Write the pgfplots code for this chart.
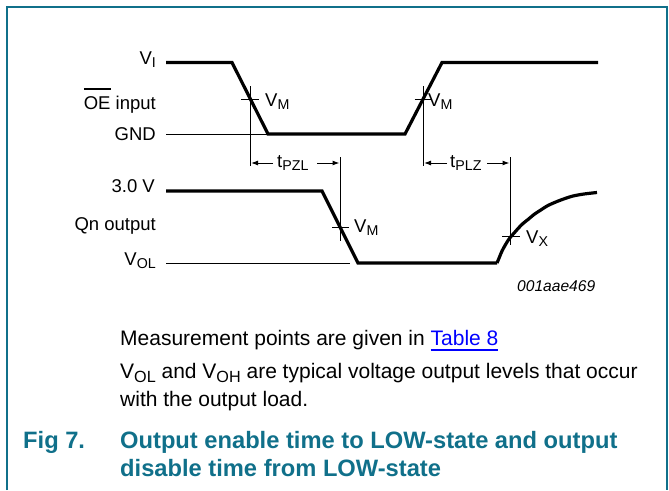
\documentclass[border=0pt]{standalone}
\usepackage{fontspec}
\setmainfont{Liberation Sans}
\usepackage{graphicx}
\usepackage{pgfplots}
\pgfplotsset{compat=1.18}
\usetikzlibrary{arrows.meta}
\definecolor{nxp}{RGB}{16,112,138}
\newcommand\sub[1]{\raisebox{-0.2em}{\scalebox{0.77}{#1}}}
\newcommand\lab{\fontsize{18.5}{22}\selectfont}
\newcommand\body{\fontsize{21}{25}\selectfont}
\newcommand\ttl{\fontsize{23.7}{28}\selectfont\bfseries}
\newcommand\ovl[1]{\setbox0\hbox{#1}\rlap{\rule[19.5pt]{\wd0}{1.2pt}}\box0\relax}
\newcommand\ul[1]{\setbox0\hbox{#1}\rlap{\rule[-6pt]{\wd0}{2pt}}\box0\relax}
\begin{document}
\begin{tikzpicture}
\begin{axis}[width=669pt,height=490pt,scale only axis,
  xmin=0,xmax=669,ymin=0,ymax=490,y dir=reverse,hide axis,clip=false]
% frame
\addplot[nxp,line width=2pt] coordinates {(6.5,490)(6.5,7)(666.5,7)(666.5,490)};
% OE input waveform
\addplot[black,line width=3.2pt] coordinates {(166,62.5)(232,62.5)(268,134)(405,134)(442,62.5)(598,62.5)};
\addplot[black,line width=1pt] coordinates {(166,134)(268,134)};
% Qn output waveform
\addplot[black,line width=3.2pt] coordinates {(166,191)(322,191)(358,263)(497,263)};
\addplot[black,line width=3.2pt,smooth] coordinates {(497,263)(499.5,257)(502,251)(505,245.5)(508,240.5)(511,236.5)(515,232)(519,227.5)(523,223.5)(528,219.5)(534,214.5)(540,210.5)(548,205.5)(557,201.5)(565,198.5)(573,196)(584,194)(597,192.5)};
\addplot[black,line width=1pt] coordinates {(166,263)(350,263)};
% measurement verticals and ticks
\addplot[black,line width=1pt] coordinates {(250,86)(250,166)};
\addplot[black,line width=1pt] coordinates {(241,99)(258.5,99)};
\addplot[black,line width=1pt] coordinates {(423,86)(423,166)};
\addplot[black,line width=1pt] coordinates {(414.5,99)(432,99)};
\addplot[black,line width=1pt] coordinates {(340.5,157)(340.5,241)};
\addplot[black,line width=1pt] coordinates {(332,227)(349,227)};
\addplot[black,line width=1pt] coordinates {(510.5,157)(510.5,245)};
\addplot[black,line width=1pt] coordinates {(502,236.5)(520,236.5)};
% arrows
\addplot[black,line width=1pt,-{Latex[length=7pt,width=5pt]}] coordinates {(273,163)(251,163)};
\addplot[black,line width=1pt,-{Latex[length=7pt,width=5pt]}] coordinates {(317,163)(339.5,163)};
\addplot[black,line width=1pt,-{Latex[length=7pt,width=5pt]}] coordinates {(447,163)(424,163)};
\addplot[black,line width=1pt,-{Latex[length=7pt,width=5pt]}] coordinates {(487,163)(509.5,163)};
% left labels
\node[anchor=base east,font=\lab,inner sep=0pt] at (156,64) {V\sub{I}};
\node[anchor=base east,font=\lab,inner sep=0pt] at (156,109) {\ovl{OE} input};
\node[anchor=base east,font=\lab,inner sep=0pt] at (156,140) {GND};
\node[anchor=base east,font=\lab,inner sep=0pt] at (155,192) {3.0 V};
\node[anchor=base east,font=\lab,inner sep=0pt] at (156,230) {Qn output};
\node[anchor=base east,font=\lab,inner sep=0pt] at (156,265) {V\sub{OL}};
% marker labels
\node[anchor=base west,font=\lab,inner sep=0pt] at (265,106) {V\sub{M}};
\node[anchor=base west,font=\lab,inner sep=0pt] at (428,106) {V\sub{M}};
\node[anchor=base west,font=\lab,inner sep=0pt] at (354,232) {V\sub{M}};
\node[anchor=base west,font=\lab,inner sep=0pt] at (526,243) {V\sub{X}};
\node[anchor=base west,font=\lab,inner sep=0pt] at (277,167) {t\sub{PZL}};
\node[anchor=base west,font=\lab,inner sep=0pt] at (450,167) {t\sub{PLZ}};
\node[anchor=base west,font=\fontsize{15.6}{18}\selectfont\itshape,inner sep=0pt] at (517,291) {001aae469};
% notes
\node[anchor=base west,font=\body,inner sep=0pt] at (120,345) {Measurement points are given in \textcolor{blue}{\ul{Table 8}}};
\node[anchor=base west,font=\body,inner sep=0pt] at (120,378) {V\sub{OL} and V\sub{OH} are typical voltage output levels that occur};
\node[anchor=base west,font=\body,inner sep=0pt] at (120,406) {with the output load.};
% caption
\node[anchor=base west,font=\ttl,text=nxp,inner sep=0pt] at (23,448) {Fig 7.};
\node[anchor=base west,font=\ttl,text=nxp,inner sep=0pt] at (120,448) {Output enable time to LOW-state and output};
\node[anchor=base west,font=\ttl,text=nxp,inner sep=0pt] at (120,476) {disable time from LOW-state};
\end{axis}
\pgfresetboundingbox
\useasboundingbox (current axis.south west) rectangle (current axis.north east);
\end{tikzpicture}
\end{document}
